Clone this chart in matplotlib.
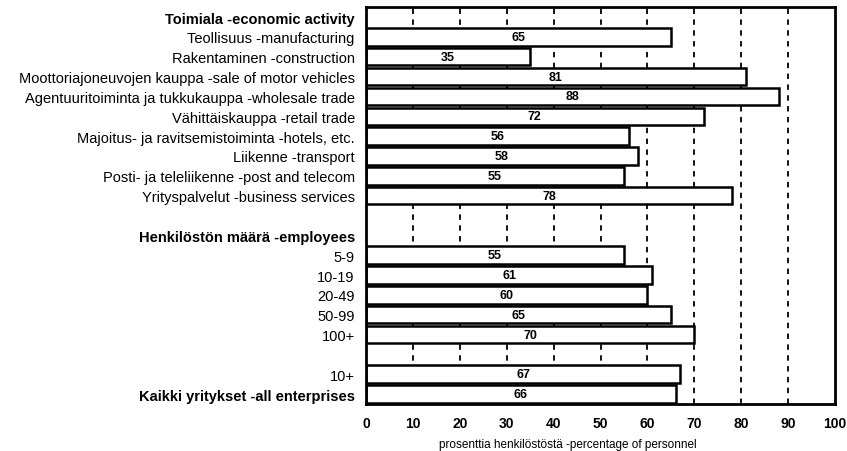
import matplotlib
matplotlib.use('Agg')
import matplotlib.pyplot as plt

plt.rcParams['font.family'] = ['Liberation Sans', 'DejaVu Sans']

activity_header = 'Toimiala -economic activity'
activity_labels = ['Teollisuus -manufacturing',
                   'Rakentaminen -construction',
                   'Moottoriajoneuvojen kauppa -sale of motor vehicles',
                   'Agentuuritoiminta ja tukkukauppa -wholesale trade',
                   'Vähittäiskauppa -retail trade',
                   'Majoitus- ja ravitsemistoiminta -hotels, etc.',
                   'Liikenne -transport',
                   'Posti- ja teleliikenne -post and telecom',
                   'Yrityspalvelut -business services']
activity_values = [65, 35, 81, 88, 72, 56, 58, 55, 78]

size_header = 'Henkilöstön määrä -employees'
size_labels = ['5-9', '10-19', '20-49', '50-99', '100+']
size_values = [55, 61, 60, 65, 70]

total_labels = ['10+', 'Kaikki yritykset -all enterprises']
total_values = [67, 66]

x_ticks = list(range(0, 101, 10))
x_label = 'prosenttia henkilöstöstä -percentage of personnel'

# build the row list: (label, value or None, bold)
rows = [(activity_header, None, True)]
rows += [(l, v, False) for l, v in zip(activity_labels, activity_values)]
rows += [('', None, False), (size_header, None, True)]
rows += [(l, v, False) for l, v in zip(size_labels, size_values)]
rows += [('', None, False)]
rows += [(total_labels[0], total_values[0], False),
         (total_labels[1], total_values[1], True)]

fig = plt.figure(figsize=(8.47, 4.52), dpi=100)
ax = fig.add_axes([0.432, 0.104, 0.554, 0.878])

for g in x_ticks[1:-1]:
    ax.axvline(g, color='black', lw=1.3, linestyle=(0, (3, 3)), zorder=1)

for i, (lab, val, bold) in enumerate(rows):
    if val is None:
        continue
    ax.barh(i, val, height=0.88, color='white', edgecolor='black',
            linewidth=1.8, zorder=2)
    ax.text(val / 2, i, str(val), ha='center', va='center',
            fontsize=9, fontweight='bold', zorder=3)

ax.set_yticks(range(len(rows)))
ax.set_yticklabels([r[0] for r in rows], fontsize=10.5)
for t, r in zip(ax.get_yticklabels(), rows):
    if r[2]:
        t.set_fontweight('bold')
ax.set_ylim(len(rows) - 0.5, -0.5)
ax.set_xlim(0, 100)
ax.set_xticks(x_ticks)
ax.set_xticklabels([str(x) for x in x_ticks], fontsize=10, fontweight='bold')
ax.tick_params(axis='y', length=0, pad=8)
ax.tick_params(axis='x', length=0, pad=9)
ax.set_xlabel(x_label, fontsize=8.5)
ax.xaxis.set_label_coords(0.43, -0.085)
for s in ax.spines.values():
    s.set_linewidth(2)

fig.savefig('out.png', dpi=100)
